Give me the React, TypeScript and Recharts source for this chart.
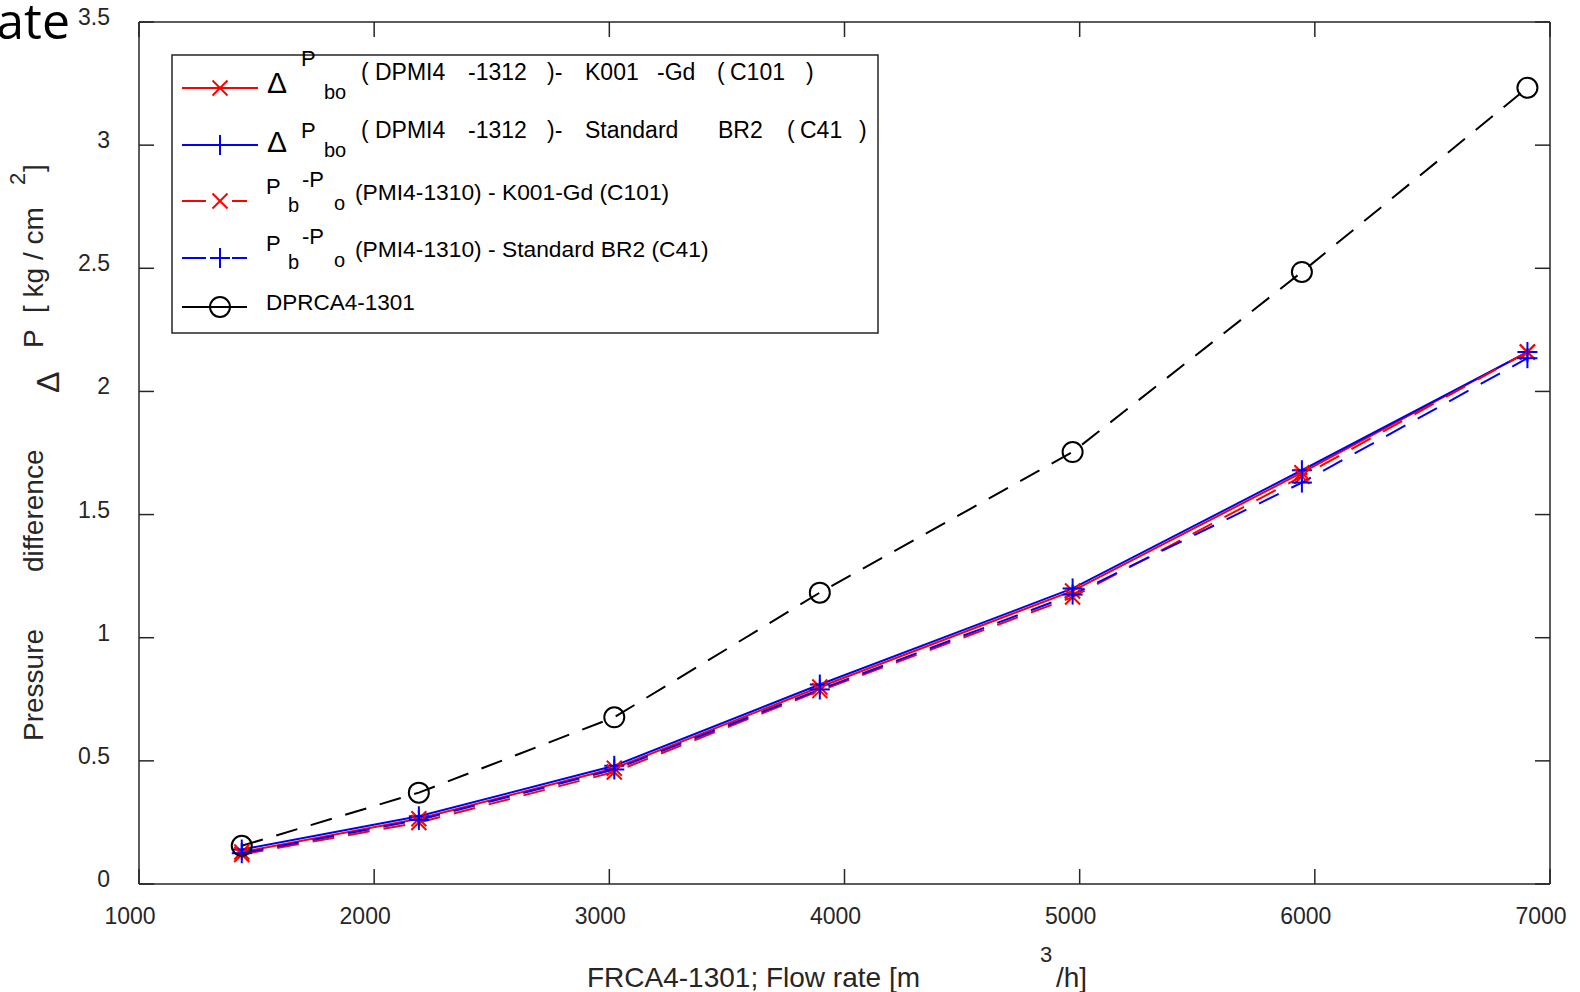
import { Line, LineChart, ReferenceLine, XAxis, YAxis } from 'recharts'

// flow rate FRCA4-1301 [m3/h]
const flowRate = [1437, 2190, 3021, 3895, 4970, 5945, 6904]
// pressure difference [kg/cm2]
const dpboK001 = [0.13, 0.265, 0.47, 0.8, 1.19, 1.67, 2.16]
const dpboStandard = [0.14, 0.275, 0.48, 0.81, 1.2, 1.68, 2.16]
const pbpoK001 = [0.12, 0.25, 0.455, 0.785, 1.165, 1.655, 2.16]
const pbpoStandard = [0.125, 0.26, 0.465, 0.79, 1.175, 1.63, 2.135]
const dprca = [0.155, 0.371, 0.677, 1.183, 1.754, 2.485, 3.233]

const xTicks = [1000, 2000, 3000, 4000, 5000, 6000, 7000]
const yTicks = [0, 0.5, 1, 1.5, 2, 2.5, 3, 3.5]

const W = 1580
const H = 992
const PLOT = { left: 139, top: 22, right: 1550, bottom: 884 }
const Y_AXIS_W = 60
const X_AXIS_H = 60
const FONT = '"Liberation Sans", Arial, Helvetica, sans-serif'
const INK = '#262626'
const TICK = 15
const RED = '#ff0000'
const BLUE = '#0000ff'
const DASH = '22 14'

const chartData = flowRate.map((x, i) => ({
  x,
  dpboK001: dpboK001[i],
  dpboStandard: dpboStandard[i],
  pbpoK001: pbpoK001[i],
  pbpoStandard: pbpoStandard[i],
  dprca: dprca[i],
}))

const crossMark = (cx: number, cy: number, color: string, key?: string) => (
  <g key={key}>
    <line x1={cx - 7.5} y1={cy - 7.5} x2={cx + 7.5} y2={cy + 7.5} stroke={color} strokeWidth={2} />
    <line x1={cx - 7.5} y1={cy + 7.5} x2={cx + 7.5} y2={cy - 7.5} stroke={color} strokeWidth={2} />
  </g>
)

const plusMark = (cx: number, cy: number, color: string, key?: string) => (
  <g key={key}>
    <line x1={cx - 10} y1={cy} x2={cx + 10} y2={cy} stroke={color} strokeWidth={2} />
    <line x1={cx} y1={cy - 10} x2={cx} y2={cy + 10} stroke={color} strokeWidth={2} />
  </g>
)

const circleMark = (cx: number, cy: number, key?: string) => (
  <circle key={key} cx={cx} cy={cy} r={10} fill="none" stroke="#000" strokeWidth={2} />
)

const dotFor = (kind: 'x' | '+' | 'o', color: string) => (props: any) => {
  const { cx, cy, index } = props
  const key = `${kind}-${color}-${index}`
  if (cx == null || cy == null) return <g key={key} />
  if (kind === 'x') return crossMark(cx, cy, color, key)
  if (kind === '+') return plusMark(cx, cy, color, key)
  return circleMark(cx, cy, key)
}

const XTick = (props: any) => {
  const { x, y, payload } = props
  return (
    <g>
      <line x1={x} y1={y} x2={x} y2={y - TICK} stroke={INK} strokeWidth={1.5} />
      <line x1={x} y1={PLOT.top} x2={x} y2={PLOT.top + TICK} stroke={INK} strokeWidth={1.5} />
      <text x={x - 9} y={y + 40} textAnchor="middle" fontSize={23} fontFamily={FONT} fill={INK}>
        {payload.value}
      </text>
    </g>
  )
}

const YTick = (props: any) => {
  const { x, y, payload } = props
  return (
    <g>
      <line x1={x} y1={y} x2={x + TICK} y2={y} stroke={INK} strokeWidth={1.5} />
      <line x1={PLOT.right - TICK} y1={y} x2={PLOT.right} y2={y} stroke={INK} strokeWidth={1.5} />
      <text x={x - 29} y={y + 3} textAnchor="end" fontSize={23} fontFamily={FONT} fill={INK}>
        {String(payload.value)}
      </text>
    </g>
  )
}

function LegendBox() {
  const t = { fontFamily: FONT, fill: '#000', style: { whiteSpace: 'pre' as const } }
  return (
    <g>
      <rect x={172} y={55} width={706} height={278} fill="#fff" stroke={INK} strokeWidth={1.5} />

      {/* row 1 */}
      <line x1={182} y1={88} x2={258} y2={88} stroke={RED} strokeWidth={2} />
      {crossMark(220, 88, RED)}
      <text x={267} y={93} fontSize={30} {...t}>Δ</text>
      <text x={301} y={66} fontSize={22} {...t}>P</text>
      <text x={324} y={99} fontSize={20} {...t}>bo</text>
      <text y={80} fontSize={23} {...t}>
        <tspan x={361}>(</tspan>
        <tspan x={375}>DPMI4</tspan>
        <tspan x={468}>-1312</tspan>
        <tspan x={547}>)-</tspan>
        <tspan x={585}>K001</tspan>
        <tspan x={657}>-Gd</tspan>
        <tspan x={717}>(</tspan>
        <tspan x={730}>C101</tspan>
        <tspan x={806}>)</tspan>
      </text>

      {/* row 2 */}
      <line x1={182} y1={145} x2={258} y2={145} stroke={BLUE} strokeWidth={2} />
      {plusMark(220, 145, BLUE)}
      <text x={267} y={152} fontSize={30} {...t}>Δ</text>
      <text x={301} y={138} fontSize={22} {...t}>P</text>
      <text x={324} y={157} fontSize={20} {...t}>bo</text>
      <text y={138} fontSize={23} {...t}>
        <tspan x={361}>(</tspan>
        <tspan x={375}>DPMI4</tspan>
        <tspan x={468}>-1312</tspan>
        <tspan x={547}>)-</tspan>
        <tspan x={585}>Standard</tspan>
        <tspan x={718}>BR2</tspan>
        <tspan x={787}>(</tspan>
        <tspan x={800}>C41</tspan>
        <tspan x={859}>)</tspan>
      </text>

      {/* row 3 */}
      <line x1={182} y1={201} x2={206} y2={201} stroke={RED} strokeWidth={2} />
      <line x1={232} y1={201} x2={247} y2={201} stroke={RED} strokeWidth={2} />
      {crossMark(220, 201, RED)}
      <text x={266} y={194} fontSize={22} {...t}>P</text>
      <text x={288} y={212} fontSize={20} {...t}>b</text>
      <text x={302} y={187} fontSize={22} {...t}>-P</text>
      <text x={334} y={210} fontSize={20} {...t}>o</text>
      <text x={355} y={200} fontSize={22.8} {...t}>(PMI4-1310) - K001-Gd (C101)</text>

      {/* row 4 */}
      <line x1={182} y1={258} x2={206} y2={258} stroke={BLUE} strokeWidth={2} />
      <line x1={232} y1={258} x2={247} y2={258} stroke={BLUE} strokeWidth={2} />
      {plusMark(220, 258, BLUE)}
      <text x={266} y={251} fontSize={22} {...t}>P</text>
      <text x={288} y={269} fontSize={20} {...t}>b</text>
      <text x={302} y={244} fontSize={22} {...t}>-P</text>
      <text x={334} y={267} fontSize={20} {...t}>o</text>
      <text x={355} y={257} fontSize={22.8} {...t}>(PMI4-1310) - Standard BR2 (C41)</text>

      {/* row 5 */}
      <line x1={182} y1={307} x2={247} y2={307} stroke="#000" strokeWidth={2} />
      {circleMark(220, 307)}
      <text x={266} y={310} fontSize={22.5} {...t}>DPRCA4-1301</text>
    </g>
  )
}

function Titles() {
  const t = { fontFamily: FONT, fill: INK, style: { whiteSpace: 'pre' as const } }
  return (
    <g>
      <text x={70} y={39} textAnchor="end" fontSize={50} fontFamily='"Open Sans", "Noto Sans", sans-serif' fill="#000">
        ate
      </text>

      <text x={587} y={987} fontSize={28} {...t}>FRCA4-1301; Flow rate [m</text>
      <text x={1040} y={962} fontSize={22} {...t}>3</text>
      <text x={1056} y={987} fontSize={28} {...t}>/h]</text>

      <g transform="translate(43, 741) rotate(-90)">
        <text y={0} fontSize={28} {...t}>
          <tspan x={0}>Pressure</tspan>
          <tspan x={169}>difference</tspan>
        </text>
        <text x={348} y={16} fontSize={32} {...t}>Δ</text>
        <text y={0} fontSize={28} {...t}>
          <tspan x={393}>P</tspan>
          <tspan x={428}>[ kg / cm</tspan>
        </text>
        <text x={556} y={-18} fontSize={22} {...t}>2</text>
        <text x={569} y={0} fontSize={28} {...t}>]</text>
      </g>
    </g>
  )
}

export default function App() {
  return (
    <div style={{ position: 'absolute', left: 0, top: 0, width: W, height: H, background: '#fff' }}>
      <LineChart
        width={W}
        height={H}
        data={chartData}
        margin={{
          top: PLOT.top,
          left: PLOT.left - Y_AXIS_W,
          right: W - PLOT.right,
          bottom: H - PLOT.bottom - X_AXIS_H,
        }}
      >
        <XAxis
          dataKey="x"
          type="number"
          domain={[1000, 7000]}
          ticks={xTicks}
          interval={0}
          height={X_AXIS_H}
          tickLine={false}
          tickSize={0}
          tickMargin={0}
          axisLine={{ stroke: INK, strokeWidth: 1.5 }}
          tick={<XTick />}
        />
        <YAxis
          type="number"
          domain={[0, 3.5]}
          ticks={yTicks}
          interval={0}
          width={Y_AXIS_W}
          tickLine={false}
          tickSize={0}
          tickMargin={0}
          axisLine={{ stroke: INK, strokeWidth: 1.5 }}
          tick={<YTick />}
        />
        <ReferenceLine y={3.5} stroke={INK} strokeWidth={1.5} />
        <ReferenceLine x={7000} stroke={INK} strokeWidth={1.5} />

        <Line type="linear" dataKey="dpboK001" stroke={RED} strokeWidth={2} dot={dotFor('x', RED)} isAnimationActive={false} />
        <Line type="linear" dataKey="dpboStandard" stroke={BLUE} strokeWidth={2} dot={dotFor('+', BLUE)} isAnimationActive={false} />
        <Line type="linear" dataKey="pbpoK001" stroke={RED} strokeWidth={2} strokeDasharray={DASH} dot={dotFor('x', RED)} isAnimationActive={false} />
        <Line type="linear" dataKey="pbpoStandard" stroke={BLUE} strokeWidth={2} strokeDasharray={DASH} dot={dotFor('+', BLUE)} isAnimationActive={false} />
        <Line type="linear" dataKey="dprca" stroke="#000" strokeWidth={2} strokeDasharray={DASH} dot={dotFor('o', '#000')} isAnimationActive={false} />
      </LineChart>
      <svg width={W} height={H} style={{ position: 'absolute', left: 0, top: 0, pointerEvents: 'none' }}>
        <Titles />
        <LegendBox />
      </svg>
    </div>
  )
}
